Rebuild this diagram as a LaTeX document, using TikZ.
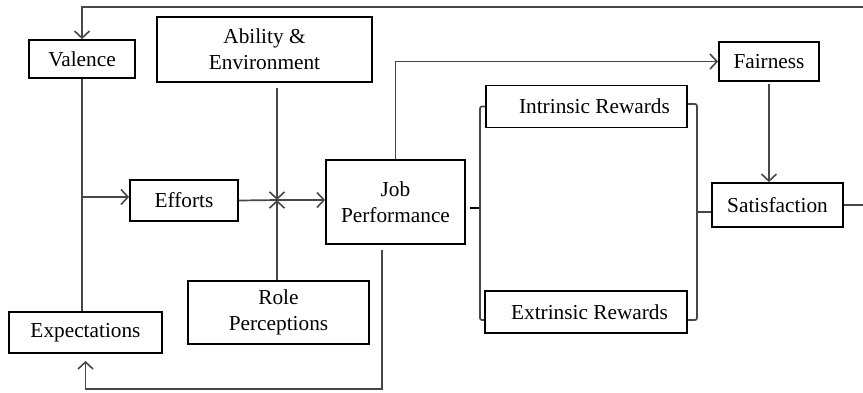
\documentclass[tikz,border=0pt]{standalone}
\usepackage{fontspec}
\setmainfont{Liberation Serif}
\usetikzlibrary{arrows.meta}
\begin{document}
\begin{tikzpicture}[x=1pt,y=-1pt,
  box/.style={draw=black,line width=1.8pt,inner sep=0pt,align=center,
    font=\fontsize{21.3}{26}\selectfont},
  conn/.style={draw=black!72,line width=1.7pt},
  arr/.style={conn,-{Straight Barb[length=7pt,width=15pt,line width=1.6pt]}}]
\useasboundingbox[fill=white] (0,0) rectangle (863,392);
% nodes
\node[box,minimum width=106pt,minimum height=38pt] (val) at (82,59) {Valence};
\node[box,minimum width=215pt,minimum height=65pt] (abil) at (264.5,49.5) {Ability \&\\Environment};
\node[box,minimum width=108pt,minimum height=41pt] (eff) at (184,200.5) {Efforts};
\node[box,minimum width=139pt,minimum height=84pt] (job) at (395.5,202) {Job\\Performance};
\node[box,minimum width=181pt,minimum height=63pt] (role) at (278.5,312.5) {Role\\Perceptions};
\node[box,minimum width=153pt,minimum height=41pt] (expc) at (85.5,332.5) {Expectations};
\node[box,minimum width=201pt,minimum height=42pt] (intr) at (586.5,106.5) {\hspace*{16pt}Intrinsic Rewards};
\node[box,minimum width=202pt,minimum height=42pt] (extr) at (586,312) {\hspace*{7pt}Extrinsic Rewards};
\node[box,minimum width=100pt,minimum height=39pt] (fair) at (769,61.5) {Fairness};
\node[box,minimum width=131pt,minimum height=44pt] (sat) at (777.5,205) {Satisfaction};
% junction
\coordinate (J) at (277,200);
\coordinate (B) at (82,197);
\coordinate (LB) at (480,208);
\coordinate (RB) at (697,212);
% connectors
\draw[conn] (val.south) -- (val.south |- expc.north);
\draw[arr] (B) -- (B -| eff.west);
\draw[conn] (eff.east) -- (J);
\draw[arr] (J) -- (J -| job.west);
\draw[arr] ([yshift=-5pt]J |- abil.south) -- (J);
\draw[arr] (J |- role.north) -- (J);
\draw[arr] (job.north) |- (fair.west);
\draw[arr] ([yshift=-2pt]fair.south) -- (fair.south |- sat.north);
\draw[arr] ([xshift=-13.5pt,yshift=-5pt]job.south) -- ++(0,139) -| ([yshift=-7pt]expc.south);
\draw[arr] (sat.east) -- ++(26,0) |- ([yshift=32pt]val.north) -- (val.north);
% brackets
\draw[conn,line width=2.4pt,black] ([xshift=4pt]job.east |- LB) -- (LB);
\draw[conn,rounded corners=2pt] (intr.west) -- (LB |- intr.west) -- (480,320) -- (extr.west |- 0,320);
\draw[conn,rounded corners=2pt] (intr.east |- 0,104) -- (697,104) -- (697,320) -- (extr.east |- 0,320);
\draw[conn] (RB) -- (RB -| sat.west);
\end{tikzpicture}
\end{document}
